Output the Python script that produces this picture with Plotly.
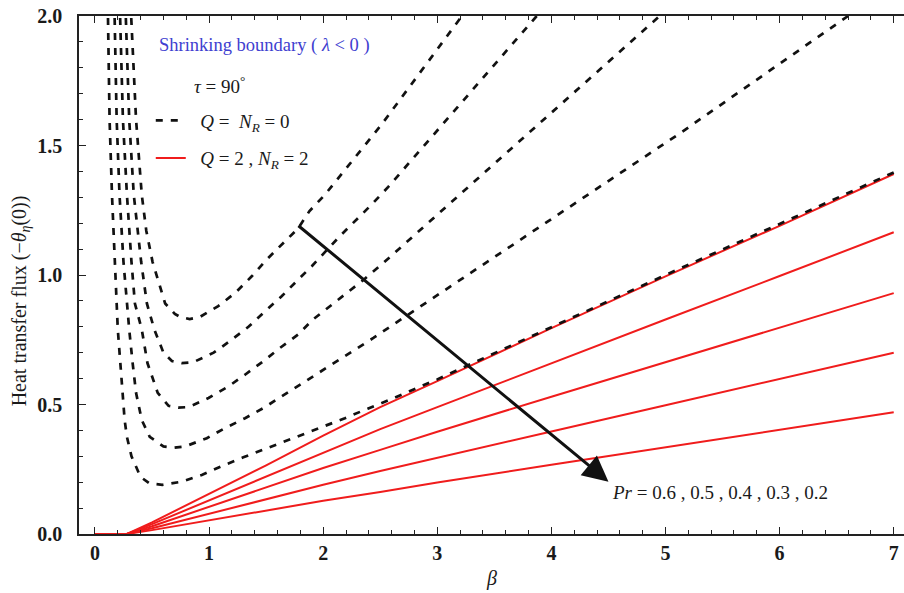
import plotly.graph_objects as go

# Pr values for the five cases (top curve to bottom curve)
pr_values = [0.6, 0.5, 0.4, 0.3, 0.2]

# Q = N_R = 0 : heat transfer flux versus beta (dashed black curves)
beta_q0 = {
    0.6: [0.31, 0.317, 0.36, 0.41, 0.45, 0.505, 0.615, 0.70, 0.746, 0.83, 0.92, 1.08, 1.227, 1.374,
          1.505, 1.636, 1.78, 1.88, 2.015, 2.51, 3.22, 3.30],
    0.5: [0.265, 0.27, 0.30, 0.34, 0.405, 0.455, 0.52, 0.60, 0.674, 0.76, 0.86, 1.04, 1.18, 1.345,
          1.49, 1.636, 1.767, 1.90, 2.146, 2.42, 2.57, 3.20, 3.87, 3.95],
    0.4: [0.215, 0.22, 0.245, 0.28, 0.32, 0.35, 0.41, 0.46, 0.55, 0.645, 0.73, 0.82, 0.995, 1.17,
          1.315, 1.475, 1.62, 1.78, 1.91, 2.06, 2.20, 2.35, 2.51, 4.94, 5.05],
    0.3: [0.168, 0.172, 0.19, 0.215, 0.25, 0.28, 0.30, 0.33, 0.36, 0.41, 0.48, 0.60, 0.69, 0.79,
          0.98, 1.14, 1.315, 1.475, 1.636, 1.796, 1.957, 2.117, 2.278, 2.44, 2.585, 5.136, 6.60, 6.75],
    0.2: [0.112, 0.114, 0.128, 0.149, 0.178, 0.19, 0.20, 0.22, 0.24, 0.26, 0.28, 0.32, 0.40, 0.48,
          0.59, 0.76, 0.936, 1.11, 1.30, 1.49, 1.66, 1.84, 2.015, 2.19, 2.39, 2.57, 3.0, 4.0, 5.0,
          6.0, 7.0],
}
flux_q0 = {
    0.6: [2.05, 2.0, 1.6, 1.31, 1.17, 1.05, 0.89, 0.85, 0.838, 0.83, 0.838, 0.88, 0.93, 0.995,
          1.06, 1.118, 1.18, 1.247, 1.31, 1.58, 2.0, 2.05],
    0.5: [2.05, 2.0, 1.6, 1.31, 1.05, 0.89, 0.79, 0.70, 0.668, 0.66, 0.663, 0.70, 0.744, 0.80,
          0.86, 0.918, 0.976, 1.034, 1.15, 1.27, 1.34, 1.66, 2.0, 2.04],
    0.4: [2.05, 2.0, 1.6, 1.31, 1.05, 0.89, 0.79, 0.66, 0.545, 0.495, 0.488, 0.49, 0.525, 0.57,
          0.615, 0.667, 0.718, 0.77, 0.828, 0.88, 0.93, 0.98, 1.04, 2.0, 2.04],
    0.3: [2.05, 2.0, 1.6, 1.31, 1.05, 0.89, 0.79, 0.66, 0.545, 0.44, 0.375, 0.338, 0.333, 0.338,
          0.37, 0.409, 0.447, 0.486, 0.531, 0.576, 0.622, 0.667, 0.712, 0.757, 0.80, 1.55, 2.0, 2.045],
    0.2: [2.05, 2.0, 1.6, 1.31, 1.05, 0.89, 0.79, 0.66, 0.545, 0.44, 0.375, 0.30, 0.22, 0.195,
          0.19, 0.202, 0.228, 0.262, 0.296, 0.328, 0.357, 0.386, 0.415, 0.447, 0.484, 0.516, 0.597,
          0.80, 1.0, 1.197, 1.396],
}

# Q = 2, N_R = 2 : heat transfer flux versus beta (solid red lines)
beta_q2 = [0, 0.28, 0.5, 1.0, 1.5, 2.0, 2.5, 3.0, 4.0, 5.0, 6.0, 7.0]
flux_q2 = {
    0.6: [0, 0, 0.045, 0.155, 0.265, 0.38, 0.49, 0.59, 0.795, 0.995, 1.19, 1.39],
    0.5: [0, 0, 0.038, 0.13, 0.22, 0.315, 0.405, 0.49, 0.66, 0.828, 0.996, 1.165],
    0.4: [0, 0, 0.03, 0.105, 0.18, 0.255, 0.325, 0.395, 0.53, 0.663, 0.797, 0.93],
    0.3: [0, 0, 0.022, 0.078, 0.135, 0.19, 0.243, 0.295, 0.396, 0.497, 0.599, 0.70],
    0.2: [0, 0, 0.015, 0.053, 0.09, 0.128, 0.162, 0.199, 0.267, 0.335, 0.402, 0.47],
}

x_ticks = [0, 1, 2, 3, 4, 5, 6, 7]
y_ticks = [0.0, 0.5, 1.0, 1.5, 2.0]

SERIF = "Liberation Serif"
RED = "#f01c1c"
INK = "#1a1a1a"

fig = go.Figure()

for i, pr in enumerate(pr_values):
    fig.add_trace(go.Scatter(
        x=beta_q2, y=flux_q2[pr], mode="lines",
        line=dict(color=RED, width=2),
        name="&nbsp;&nbsp;<i>Q</i> = 2 , <i>N<sub>R</sub></i> = 2",
        legendgroup="q2", legendrank=2, showlegend=(i == 0),
        hoverinfo="skip",
    ))

for i, pr in enumerate(pr_values):
    fig.add_trace(go.Scatter(
        x=beta_q0[pr], y=flux_q0[pr], mode="lines",
        line=dict(color="#111111", width=2.7, dash="7px,8px"),
        name="&nbsp;&nbsp;<i>Q</i> =  <i>N<sub>R</sub></i> = 0",
        legendgroup="q0", legendrank=1, showlegend=(i == 0),
        hoverinfo="skip",
    ))

tick_font = dict(family=SERIF, size=20, color=INK, weight="bold")
axis_common = dict(
    showline=True, linecolor="#222222", linewidth=1.6,
    ticks="inside", ticklen=7, tickwidth=1.3, tickcolor="#222222",
    showgrid=False, zeroline=False,
)

fig.update_xaxes(
    range=[-0.14, 7.09], tickvals=x_ticks, mirror="allticks", tickfont=tick_font,
    minor=dict(dtick=0.2, ticks="inside", ticklen=4, tickcolor="#222222", tickwidth=1.1),
    **axis_common,
)
fig.update_yaxes(
    range=[0, 2.0], tickvals=y_ticks, tickformat=".1f", ticklabelstandoff=11, tickfont=tick_font,
    minor=dict(dtick=0.1, ticks="inside", ticklen=4, tickcolor="#222222", tickwidth=1.1),
    **axis_common,
)

annotations = [
    # axis titles
    dict(text="Heat transfer flux (−<i>θ</i><sub><i>η</i></sub>(0))", textangle=-90,
         xref="paper", yref="paper", x=-0.071, y=0.45, xanchor="center", yanchor="middle",
         showarrow=False, font=dict(family=SERIF, size=20, color=INK)),
    dict(text="<i>β</i>", xref="paper", yref="paper", x=0.5, y=-0.085,
         xanchor="center", yanchor="middle",
         showarrow=False, font=dict(family=SERIF, size=20, color=INK)),
    # heading lines above the legend
    dict(text="Shrinking boundary ( <i>λ</i> &lt; 0 )", xref="paper", yref="paper",
         x=0.095, y=0.943, xanchor="left", yanchor="middle", showarrow=False,
         font=dict(family=SERIF, size=18.5, color="#4040d0")),
    dict(text="<i>τ</i> = 90<sup>°</sup>", xref="paper", yref="paper",
         x=0.137, y=0.866, xanchor="left", yanchor="middle", showarrow=False,
         font=dict(family=SERIF, size=19, color=INK)),
    # arrow across the curves in the direction of decreasing Pr
    dict(x=4.5, y=0.202, ax=1.77, ay=1.195, xref="x", yref="y", axref="x", ayref="y",
         showarrow=True, arrowhead=2, arrowsize=1.7, arrowwidth=3, arrowcolor="#111111",
         text=""),
    dict(text="<i>Pr</i> = 0.6 , 0.5 , 0.4 , 0.3 , 0.2", x=4.51, y=0.162, xref="x", yref="y",
         xanchor="left", yanchor="middle", showarrow=False,
         font=dict(family=SERIF, size=19, color=INK)),
]

fig.update_layout(
    width=904, height=593,
    margin=dict(l=79, r=0, t=16, b=59),
    paper_bgcolor="white", plot_bgcolor="white",
    showlegend=True,
    legend=dict(
        x=0.087, y=0.835, xanchor="left", yanchor="top",
        bgcolor="rgba(0,0,0,0)", borderwidth=0,
        font=dict(family=SERIF, size=19, color=INK),
        traceorder="grouped", tracegroupgap=10,
        itemwidth=30,
    ),
    annotations=annotations,
)

fig.write_html("out.html")
